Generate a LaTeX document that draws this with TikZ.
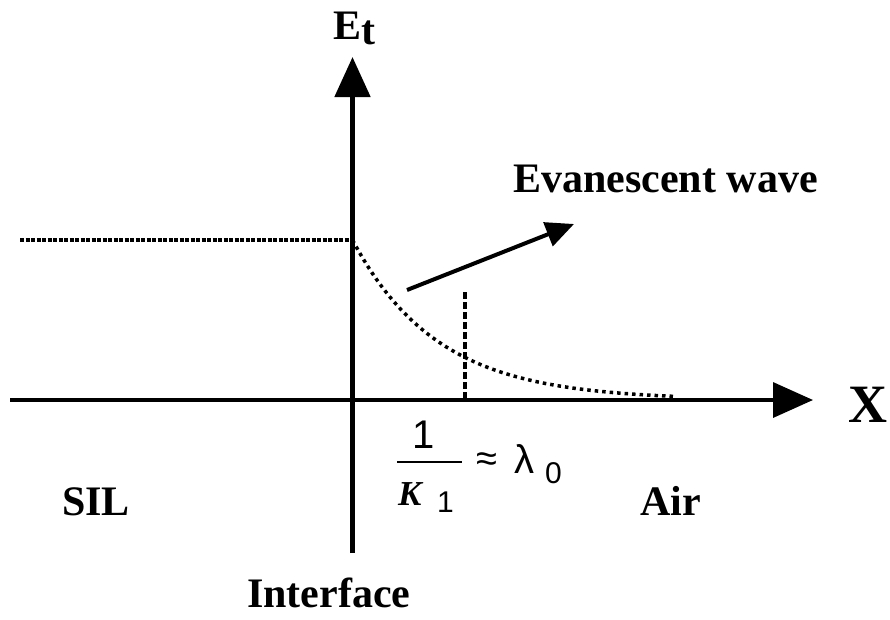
\documentclass[tikz,border=0pt]{standalone}
\usepackage{fontspec}
\setmainfont{Liberation Serif}
\newfontfamily\sansf{Liberation Sans}
\usetikzlibrary{arrows.meta}
\tikzset{
  lbl/.style={inner sep=0pt, anchor=base west, font=\fontsize{42}{49}\selectfont\bfseries},
  fr/.style={inner sep=0pt, anchor=base west},
  axis/.style={line width=4pt},
  bigtip/.style={-{Triangle[length=40pt,width=35pt]}},
}
\begin{document}
\begin{tikzpicture}[x=1pt,y=-1pt]
\useasboundingbox (0,0) rectangle (890,619);
% axes
\coordinate (xl) at (10,400);
\coordinate (xr) at (813,400);
\coordinate (yb) at (352.5,553);
\coordinate (yt) at (352.5,57);
\draw[axis, line width=3.5pt, bigtip] (xl) -- (xr);
\draw[axis, line width=5pt, bigtip] (yb) -- (yt);
% dotted level
\coordinate (lv) at (20,240);
\coordinate (lv0) at (352.5,240);
\draw[line width=4pt, dash pattern=on 4pt off 1.5pt] (lv) -- (lv0);
% decaying curve
\draw[line width=3.5pt, dash pattern=on 3.5pt off 4pt, domain=352.5:675, samples=80]
  plot (\x, {400-160*exp(-(\x-352.5)/85)});
% penetration depth marker
\coordinate (dt) at (465,292);
\coordinate (db) at (465,399);
\draw[line width=4pt, dash pattern=on 7pt off 3pt] (dt) -- (db);
% evanescent arrow
\coordinate (ea) at (407,290);
\coordinate (eb) at (574,224);
\draw[line width=4pt, -{Triangle[length=28pt,width=25pt]}] (ea) -- (eb);
% labels
\node[lbl] (Et) at (333,39) {E\raisebox{-5pt}{t}};
\node[lbl, font=\fontsize{54}{60}\selectfont\bfseries] (X) at (848,422) {X};
\node[lbl] (ev) at (513,192) {Evanescent wave};
\node[lbl] (sil) at (62,515) {SIL};
\node[lbl] (air) at (640,515) {Air};
\node[lbl] (inf) at (247,607) {Interface};
% fraction
\node[fr, font=\sansf\fontsize{40}{42}\selectfont] (one) at (412,448) {1};
\coordinate (fl) at (397,462);
\coordinate (fr) at (462,462);
\draw[line width=2pt] (fl) -- (fr);
\node[fr, font=\fontsize{35}{38}\selectfont\bfseries\itshape] (K) at (398,505) {K};
\node[fr, font=\sansf\fontsize{30}{32}\selectfont] (k1) at (437,512) {1};
\node[inner sep=0pt, font=\sansf\fontsize{38}{40}\selectfont] (ap) at (487,462) {≈};
\node[fr, font=\sansf\fontsize{40}{42}\selectfont] (lam) at (514,473) {λ};
\node[fr, font=\sansf\fontsize{30}{32}\selectfont] (l0) at (545,483) {0};
\end{tikzpicture}
\end{document}
